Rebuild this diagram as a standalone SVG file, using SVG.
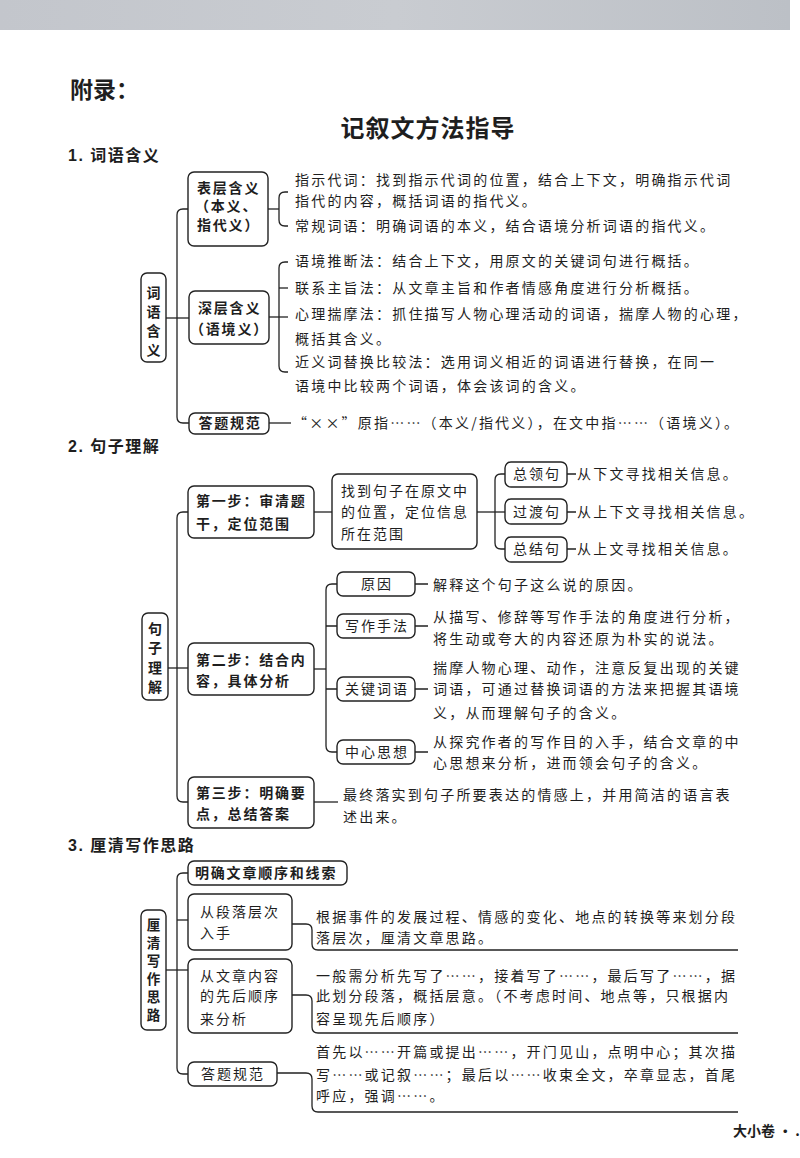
<svg xmlns="http://www.w3.org/2000/svg" width="800" height="1158" viewBox="0 0 800 1158">
<defs>
<linearGradient id="band" x1="0" y1="0" x2="1" y2="0">
<stop offset="0" stop-color="#c3c6cc"/>
<stop offset="0.5" stop-color="#c9ccd1"/>
<stop offset="1" stop-color="#bcc0c6"/>
</linearGradient>
<style>
text{font-family:"Noto Sans CJK SC","Liberation Sans",sans-serif;fill:#1e1e1e}
.t{font-size:14px;letter-spacing:2.2px}
.bx{font-size:14px;font-weight:700;letter-spacing:1.8px}
.nb{font-size:14px;letter-spacing:2px}
.hd{font-family:"Liberation Sans","Noto Sans CJK SC",sans-serif;font-size:16px;font-weight:700;letter-spacing:1.5px}
.v{font-size:14px;font-weight:700;text-anchor:middle}
.v2{font-size:13.5px;font-weight:700;text-anchor:middle}
.c{text-anchor:middle}
.box{fill:#fff;stroke:#222;stroke-width:1.4}
.ln{fill:none;stroke:#222;stroke-width:1.3}
</style>
</defs>
<rect width="800" height="1158" fill="#fff"/>
<rect x="0" y="0" width="790" height="30" fill="url(#band)"/>
<text x="70" y="98" style="font-size:23px;font-weight:700">附录：</text>
<text x="428" y="137" class="c" style="font-size:24px;font-weight:700;letter-spacing:1px">记叙文方法指导</text>

<text x="68" y="161" class="hd">1. 词语含义</text>
<text x="68" y="452" class="hd">2. 句子理解</text>
<text x="68" y="851" class="hd">3. 厘清写作思路</text>

<g id="connectors">
<!-- section 1 -->
<path class="ln" d="M188,209 H183 Q177,209 177,215 V417 Q177,423 183,423 H189"/>
<path class="ln" d="M166,318 H189"/>
<path class="ln" d="M268,209 H279"/>
<path class="ln" d="M288,192 H285 Q279,192 279,198 V220 Q279,226 285,226 H288"/>
<path class="ln" d="M288,262 H285 Q279,262 279,268 V366 Q279,372 285,372 H288"/>
<path class="ln" d="M279,288 H288"/>
<path class="ln" d="M269,317 H288"/>
<path class="ln" d="M269,423 H291"/>
<!-- section 2 -->
<path class="ln" d="M188,512 H183 Q177,512 177,518 V796 Q177,802 183,802 H188"/>
<path class="ln" d="M168,668 H188"/>
<path class="ln" d="M314,512 H332"/>
<path class="ln" d="M477,512 H505"/>
<path class="ln" d="M505,474 H501 Q495,474 495,480 V543 Q495,549 501,549 H505"/>
<path class="ln" d="M567,474 H576 M567,512 H576 M567,549 H576"/>
<path class="ln" d="M314,669 H326"/>
<path class="ln" d="M337,584 H332 Q326,584 326,590 V746 Q326,752 332,752 H337"/>
<path class="ln" d="M326,626 H337 M326,689 H337"/>
<path class="ln" d="M415,584 H428 M415,626 H428 M415,689 H428 M415,752 H428"/>
<path class="ln" d="M314,802 H338"/>
<!-- section 3 -->
<path class="ln" d="M188,873 H183 Q177,873 177,879 V1068 Q177,1074 183,1074 H188"/>
<path class="ln" d="M177,920 H188"/>
<path class="ln" d="M166,970 H188"/>
<path class="ln" d="M292,924 H306 Q312,924 312,930 V944 Q312,950 318,950 H738"/>
<path class="ln" d="M292,995 H306 Q312,995 312,1001 V1027 Q312,1033 318,1033 H738"/>
<path class="ln" d="M277,1073 H306 Q312,1073 312,1079 V1106 Q312,1112 318,1112 H738"/>
</g>

<!-- Section 1 nodes -->
<g id="s1-root">
<rect class="box" x="141" y="273" width="25" height="89" rx="6"/>
<text class="v" x="153.5" y="297.5">词</text>
<text class="v" x="153.5" y="316.5">语</text>
<text class="v" x="153.5" y="335.5">含</text>
<text class="v" x="153.5" y="354.5">义</text>
</g>
<g id="s1-surface">
<rect class="box" x="188" y="172" width="80" height="74" rx="6"/>
<text class="bx" x="197" y="193">表层含义</text>
<text class="bx" x="195" y="211">（本义、</text>
<text class="bx" x="197" y="230">指代义）</text>
</g>
<g id="s1-surface-text">
<text class="t" x="295" y="185">指示代词：找到指示代词的位置，结合上下文，明确指示代词</text>
<text class="t" x="295" y="206">指代的内容，概括词语的指代义。</text>
<text class="t" x="295" y="231">常规词语：明确词语的本义，结合语境分析词语的指代义。</text>
</g>
<g id="s1-deep">
<rect class="box" x="189" y="291" width="80" height="53" rx="6"/>
<text class="bx" x="198" y="313">深层含义</text>
<text class="bx" x="190" y="334">（语境义）</text>
</g>
<g id="s1-deep-text">
<text class="t" x="295" y="266">语境推断法：结合上下文，用原文的关键词句进行概括。</text>
<text class="t" x="295" y="293">联系主旨法：从文章主旨和作者情感角度进行分析概括。</text>
<text class="t" x="295" y="319">心理揣摩法：抓住描写人物心理活动的词语，揣摩人物的心理，</text>
<text class="t" x="295" y="344">概括其含义。</text>
<text class="t" x="295" y="367">近义词替换比较法：选用词义相近的词语进行替换，在同一</text>
<text class="t" x="295" y="391">语境中比较两个词语，体会该词的含义。</text>
</g>
<g id="s1-answer">
<rect class="box" x="189" y="413" width="80" height="21" rx="6"/>
<text class="bx c" x="230" y="428">答题规范</text>
<text class="t" x="293" y="428">“××”原指……（本义/指代义），在文中指……（语境义）。</text>
</g>

<!-- Section 2 nodes -->
<g id="s2-root">
<rect class="box" x="142" y="613" width="26" height="87" rx="6"/>
<text class="v" x="155" y="634">句</text>
<text class="v" x="155" y="653">子</text>
<text class="v" x="155" y="673">理</text>
<text class="v" x="155" y="692">解</text>
</g>
<g id="s2-step1">
<rect class="box" x="188" y="486" width="126" height="52" rx="6"/>
<text class="bx" x="196" y="506">第一步：审清题</text>
<text class="bx" x="196" y="529">干，定位范围</text>
</g>
<g id="s2-locate">
<rect class="box" x="332" y="474" width="145" height="75" rx="6"/>
<text class="nb" x="341" y="496">找到句子在原文中</text>
<text class="nb" x="341" y="517">的位置，定位信息</text>
<text class="nb" x="341" y="539">所在范围</text>
</g>
<g id="s2-lead">
<rect class="box" x="505" y="462" width="62" height="25" rx="6"/>
<text class="nb c" x="537" y="479">总领句</text>
<text class="t" x="577" y="479">从下文寻找相关信息。</text>
</g>
<g id="s2-transition">
<rect class="box" x="505" y="499" width="62" height="25" rx="6"/>
<text class="nb c" x="537" y="517">过渡句</text>
<text class="t" x="577" y="517">从上下文寻找相关信息。</text>
</g>
<g id="s2-summary">
<rect class="box" x="505" y="537" width="62" height="25" rx="6"/>
<text class="nb c" x="537" y="554">总结句</text>
<text class="t" x="577" y="554">从上文寻找相关信息。</text>
</g>
<g id="s2-step2">
<rect class="box" x="188" y="643" width="126" height="52" rx="6"/>
<text class="bx" x="196" y="665">第二步：结合内</text>
<text class="bx" x="196" y="686">容，具体分析</text>
</g>
<g id="s2-reason">
<rect class="box" x="337" y="572" width="78" height="24" rx="6"/>
<text class="nb c" x="377" y="589">原因</text>
<text class="t" x="433" y="590">解释这个句子这么说的原因。</text>
</g>
<g id="s2-technique">
<rect class="box" x="337" y="614" width="78" height="24" rx="6"/>
<text class="nb c" x="377" y="631">写作手法</text>
<text class="t" x="433" y="622">从描写、修辞等写作手法的角度进行分析，</text>
<text class="t" x="433" y="644">将生动或夸大的内容还原为朴实的说法。</text>
</g>
<g id="s2-keywords">
<rect class="box" x="337" y="677" width="78" height="24" rx="6"/>
<text class="nb c" x="377" y="694">关键词语</text>
<text class="t" x="433" y="673">揣摩人物心理、动作，注意反复出现的关键</text>
<text class="t" x="433" y="694">词语，可通过替换词语的方法来把握其语境</text>
<text class="t" x="433" y="718">义，从而理解句子的含义。</text>
</g>
<g id="s2-theme">
<rect class="box" x="337" y="740" width="78" height="24" rx="6"/>
<text class="nb c" x="377" y="757">中心思想</text>
<text class="t" x="433" y="747">从探究作者的写作目的入手，结合文章的中</text>
<text class="t" x="433" y="768">心思想来分析，进而领会句子的含义。</text>
</g>
<g id="s2-step3">
<rect class="box" x="188" y="777" width="126" height="51" rx="6"/>
<text class="bx" x="196" y="798">第三步：明确要</text>
<text class="bx" x="196" y="819">点，总结答案</text>
<text class="t" x="343" y="800">最终落实到句子所要表达的情感上，并用简洁的语言表</text>
<text class="t" x="343" y="822">述出来。</text>
</g>

<!-- Section 3 nodes -->
<g id="s3-root">
<rect class="box" x="141" y="910" width="25" height="120" rx="6"/>
<text class="v2" x="153.5" y="930">厘</text>
<text class="v2" x="153.5" y="948">清</text>
<text class="v2" x="153.5" y="966">写</text>
<text class="v2" x="153.5" y="984">作</text>
<text class="v2" x="153.5" y="1002">思</text>
<text class="v2" x="153.5" y="1020">路</text>
</g>
<g id="s3-order">
<rect class="box" x="188" y="861" width="159" height="24" rx="6"/>
<text class="bx" x="195" y="878">明确文章顺序和线索</text>
</g>
<g id="s3-paragraph">
<rect class="box" x="188" y="894" width="104" height="56" rx="6"/>
<text class="nb" x="200" y="917">从段落层次</text>
<text class="nb" x="200" y="938">入手</text>
<text class="t" x="316" y="922">根据事件的发展过程、情感的变化、地点的转换等来划分段</text>
<text class="t" x="316" y="943">落层次，厘清文章思路。</text>
</g>
<g id="s3-content">
<rect class="box" x="188" y="959" width="104" height="74" rx="6"/>
<text class="nb" x="200" y="981">从文章内容</text>
<text class="nb" x="200" y="1001">的先后顺序</text>
<text class="nb" x="200" y="1024">来分析</text>
<text class="t" x="316" y="981">一般需分析先写了……，接着写了……，最后写了……，据</text>
<text class="t" x="316" y="1001">此划分段落，概括层意。（不考虑时间、地点等，只根据内</text>
<text class="t" x="316" y="1024">容呈现先后顺序）</text>
</g>
<g id="s3-answer">
<rect class="box" x="188" y="1062" width="89" height="24" rx="6"/>
<text class="nb c" x="233" y="1079">答题规范</text>
<text class="t" x="316" y="1057">首先以……开篇或提出……，开门见山，点明中心；其次描</text>
<text class="t" x="316" y="1080">写……或记叙……；最后以……收束全文，卒章显志，首尾</text>
<text class="t" x="316" y="1101">呼应，强调……。</text>
</g>

<text x="733" y="1136" style="font-size:14px;font-weight:700">大小卷 • .</text>
</svg>
